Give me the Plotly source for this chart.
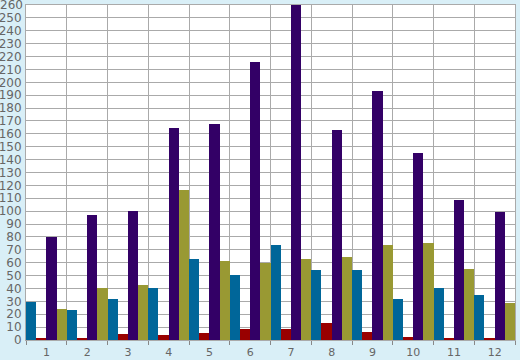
import plotly.graph_objects as go

categories = ["1", "2", "3", "4", "5", "6", "7", "8", "9", "10", "11", "12"]
series_blue = [29.5, 23, 31.5, 40, 62.5, 50.5, 73.5, 54, 54, 31.5, 40, 35]
series_red = [1.5, 1.5, 5, 3.5, 5.5, 8.5, 8.5, 13, 6.5, 2, 1, 1]
series_purple = [80, 97, 100, 164.5, 167.5, 215.5, 260, 163, 193, 145, 108.5, 99.5]
series_olive = [24, 40, 42.5, 116.5, 61, 60, 62.5, 64.5, 73.5, 75, 55, 28.5]
y_ticks = list(range(0, 261, 10))

colors = ["#006699", "#990000", "#330066", "#999933"]
fig = go.Figure()
for vals, c in zip([series_blue, series_red, series_purple, series_olive], colors):
    fig.add_trace(go.Bar(x=categories, y=vals, marker=dict(color=c, line=dict(width=0))))

fig.update_layout(
    width=520, height=360,
    margin=dict(l=26, r=5, t=5, b=20),
    paper_bgcolor="#D9EFF7", plot_bgcolor="#FFFFFF",
    barmode="group", bargap=0, bargroupgap=0,
    showlegend=False,
    font=dict(family="DejaVu Sans", size=11, color="#666666"),
)
fig.update_xaxes(
    type="category", tickson="boundaries", showgrid=True, gridcolor="#AAAAAA", gridwidth=1,
    ticks="outside", ticklen=4, tickcolor="#888888", automargin=False,
    showline=True, linecolor="#AAAAAA", mirror=True, ticklabelstandoff=2,
    tickfont=dict(size=11, color="#666666"),
)
top_tick = y_ticks[-1]
fig.update_yaxes(
    range=[0, 260], tickvals=y_ticks,
    ticktext=[str(v) if v != top_tick else "" for v in y_ticks],
    showgrid=True, gridcolor="#AAAAAA", gridwidth=1, automargin=False,
    showline=True, linecolor="#AAAAAA", mirror=True, zeroline=False,
    ticks="", ticklabelstandoff=1,
    tickfont=dict(size=12, color="#666666"),
)
fig.add_annotation(
    x=0, xref="paper", y=top_tick, yref="y", text=str(top_tick),
    xanchor="right", yanchor="middle", xshift=-1, yshift=0, showarrow=False,
    font=dict(size=12, color="#666666", family="DejaVu Sans"),
)
fig.write_html(
    "out.html",
    config={"displayModeBar": False},
    post_script="document.body.style.margin='0';document.body.style.overflow='hidden';",
)
